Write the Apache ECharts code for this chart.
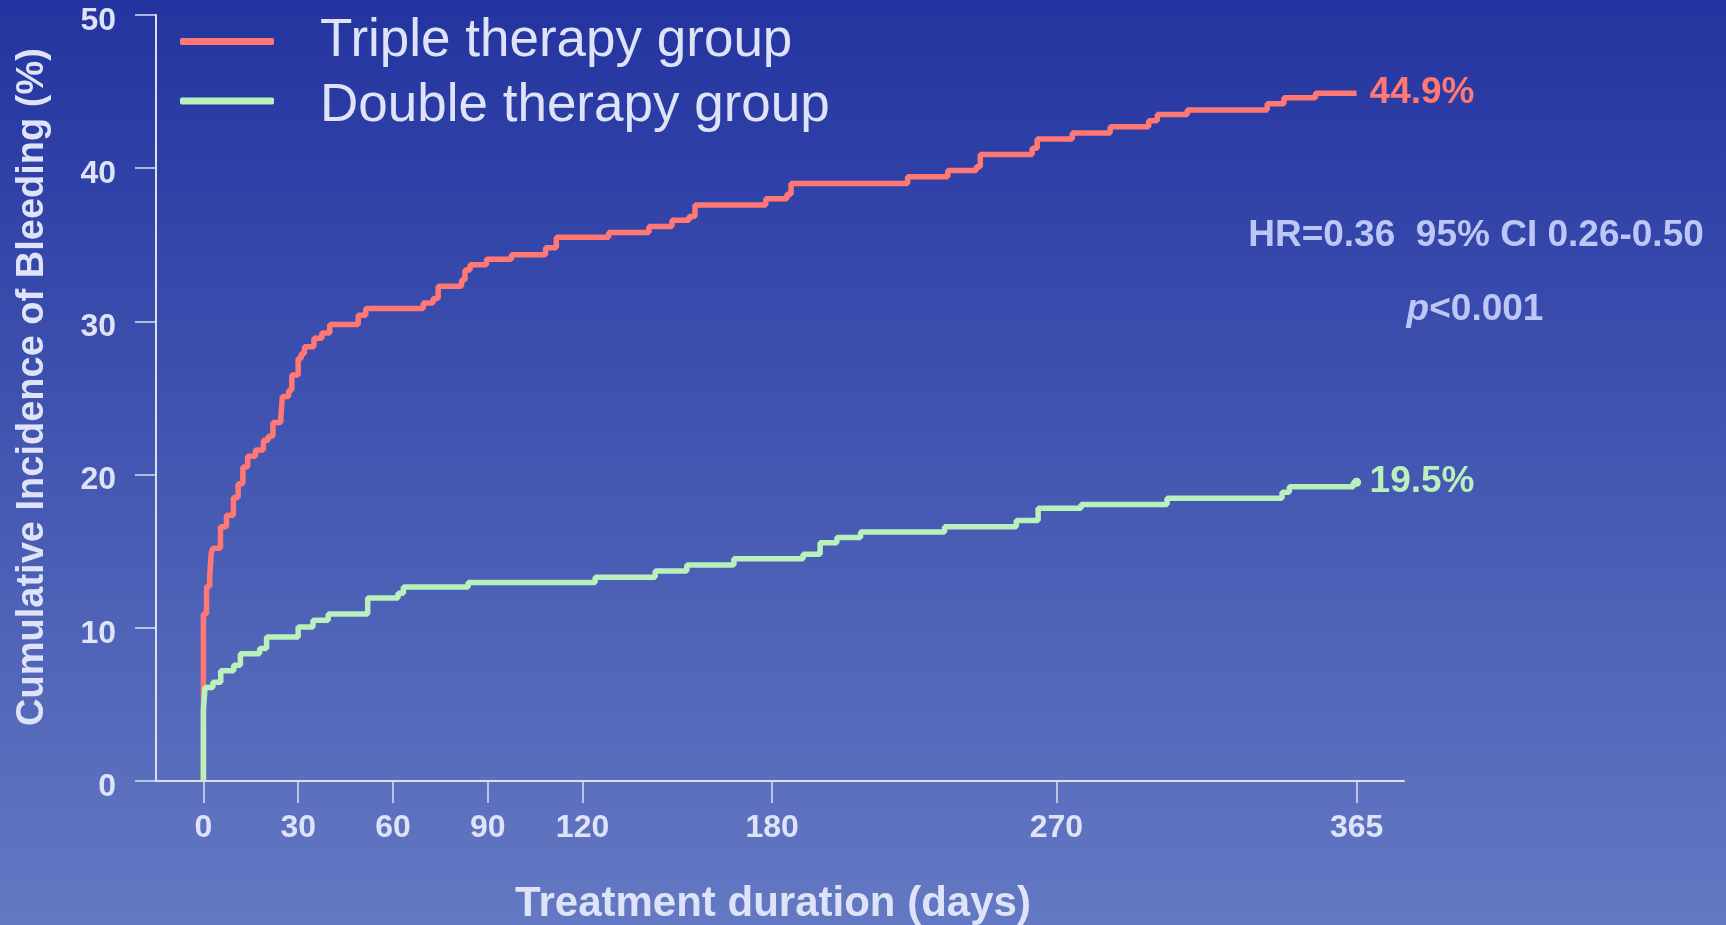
<!DOCTYPE html>
<html>
<head>
<meta charset="utf-8">
<script src="https://cdn.jsdelivr.net/npm/echarts@6/dist/echarts.min.js"></script>
<style>
  html, body { margin: 0; padding: 0; }
  #main { width: 1726px; height: 925px; }
</style>
</head>
<body>
<div id="main"></div>
<script>
  // Kaplan-Meier style cumulative incidence, [day, %]
  var tripleData = [
    [0, 0], [0, 10.9], [1, 12.7], [2, 13.4], [2.5, 14.9], [3, 15.2], [5.4, 16.6], [7.3, 17.35],
    [9.5, 18.5], [11, 19.4], [12.5, 20.5], [14, 21.2], [16.5, 21.6], [19, 22.25], [20.5, 22.5],
    [22, 23.4], [24.5, 23.7], [25, 25.1], [27, 25.5], [28, 26.5], [30, 27.6], [31, 27.9],
    [32, 28.35], [35, 28.9], [37.5, 29.25], [40, 29.8], [49, 30.4], [51.4, 30.85], [69.6, 31.2],
    [72.7, 31.5], [74.3, 32.3], [81.7, 32.7], [82.8, 33.35], [84.4, 33.7], [89.6, 34.05],
    [97.5, 34.35], [108.3, 34.8], [111.7, 35.5], [128.3, 35.8], [141, 36.2], [148.3, 36.6],
    [153.7, 36.85], [155.6, 37.6], [178, 38.0], [184.7, 38.3], [186, 39.0], [222.9, 39.45],
    [235.6, 39.85], [244.6, 40.1], [245.9, 40.9], [262.3, 41.3], [263.9, 41.9], [275, 42.3],
    [287, 42.7], [299.2, 43.1], [301.9, 43.5], [311.4, 43.8], [336.7, 44.2], [342, 44.6],
    [352, 44.9], [365, 44.9]
  ];
  var doubleData = [
    [0, 0], [0, 4.6], [0.5, 6.1], [3, 6.45], [5.5, 7.2], [9.6, 7.55], [11.7, 8.3], [17.8, 8.65],
    [20, 9.4], [30, 10.05], [34.7, 10.5], [39.5, 10.9], [52, 11.95], [61.6, 12.25], [63.3, 12.67],
    [83.8, 12.95], [124, 13.3], [143, 13.7], [153, 14.1], [167.9, 14.5], [189.8, 14.8],
    [195.2, 15.55], [200.5, 15.9], [208, 16.25], [234.6, 16.6], [257.3, 17.0], [264.2, 17.8],
    [277.8, 18.05], [305, 18.45], [341.4, 18.85], [343.7, 19.2], [364, 19.5], [365, 19.5]
  ];
  var xTicks = [0, 30, 60, 90, 120, 180, 270, 365];
  var seriesNames = ['Triple therapy group', 'Double therapy group'];
  var endLabels = ['44.9%', '19.5%'];

  var red = '#ff7874';
  var green = '#b9f0bc';
  var txt = '#dfe3f8';
  var font = '"Liberation Sans", Arial, sans-serif';

  var chart = echarts.init(document.getElementById('main'));

  // last green point gets the little dot
  var doubleSeriesData = doubleData.map(function (p, i) {
    if (i === doubleData.length - 1) {
      return { value: p, symbol: 'circle', symbolSize: 9 };
    }
    return p;
  });

  function legendFor(name, top, padTop) {
    return {
      data: [name],
      left: 180,
      top: top,
      padding: 0,
      itemWidth: 94,
      itemHeight: 7,
      icon: 'roundRect',
      formatter: '{t|{name}}',
      textStyle: {
        padding: [0, 0, 0, 41],
        rich: {
          t: { color: txt, fontSize: 53, fontFamily: font, padding: [padTop, 0, 0, 0] }
        }
      }
    };
  }

  chart.setOption({
    animation: false,
    backgroundColor: new echarts.graphic.LinearGradient(0, 0, 0, 1, [
      { offset: 0, color: '#2334a0' },
      { offset: 1, color: '#6479c3' }
    ]),
    textStyle: { fontFamily: font },
    grid: { left: 156, right: 322, top: 15, bottom: 144, outerBoundsMode: 'none', containLabel: false },
    legend: [
      legendFor(seriesNames[0], 15, 0),
      legendFor(seriesNames[1], 80, 11)
    ],
    xAxis: {
      type: 'value',
      min: -15,
      max: 380,
      name: 'Treatment duration (days)',
      nameLocation: 'middle',
      nameGap: 102,
      nameTextStyle: { color: txt, fontSize: 42, fontWeight: 'bold', fontFamily: font, padding: [0, 14, 0, 0] },
      axisLine: { show: true, lineStyle: { color: '#dcdff0', width: 2 } },
      axisTick: { show: true, length: 22, customValues: xTicks, lineStyle: { color: '#dcdff0', width: 1.5 } },
      axisLabel: { customValues: xTicks, color: txt, fontSize: 32, fontWeight: 'bold', margin: 31, fontFamily: font },
      splitLine: { show: false }
    },
    yAxis: {
      type: 'value',
      min: 0,
      max: 50,
      interval: 10,
      name: 'Cumulative Incidence of Bleeding (%)',
      nameLocation: 'middle',
      nameGap: 104,
      nameTextStyle: { color: txt, fontSize: 38, fontWeight: 'bold', fontFamily: font, padding: [0, 0, 0, 22] },
      axisLine: { show: true, onZero: false, lineStyle: { color: '#dcdff0', width: 2 } },
      axisTick: { show: true, length: 21, lineStyle: { color: '#dcdff0', width: 1.5 } },
      axisLabel: {
        margin: 40,
        formatter: '{v|{value}}',
        rich: {
          v: { color: txt, fontSize: 32, fontWeight: 'bold', fontFamily: font, padding: [12, 0, 0, 0] }
        }
      },
      splitLine: { show: false }
    },
    series: [
      {
        name: seriesNames[0],
        type: 'line',
        step: 'end',
        data: tripleData,
        showSymbol: false,
        color: red,
        lineStyle: { color: red, width: 5.5 },
        endLabel: {
          show: true,
          formatter: endLabels[0],
          color: red,
          fontSize: 37,
          fontWeight: 'bold',
          distance: 13
        }
      },
      {
        name: seriesNames[1],
        type: 'line',
        step: 'end',
        data: doubleSeriesData,
        symbol: 'none',
        showSymbol: true,
        color: green,
        itemStyle: { color: green },
        lineStyle: { color: green, width: 5.5 },
        endLabel: {
          show: true,
          formatter: endLabels[1],
          color: green,
          fontSize: 37,
          fontWeight: 'bold',
          distance: 13
        }
      }
    ],
    graphic: [
      {
        type: 'text',
        x: 1476,
        y: 236,
        style: {
          text: 'HR=0.36  95% CI 0.26-0.50',
          fill: '#bcc7f6',
          font: 'bold 37px ' + font,
          textAlign: 'center',
          textVerticalAlign: 'middle'
        }
      },
      {
        type: 'text',
        x: 1475,
        y: 310,
        style: {
          text: '{i|p}<0.001',
          fill: '#bcc7f6',
          font: 'bold 37px ' + font,
          textAlign: 'center',
          textVerticalAlign: 'middle',
          rich: {
            i: { fill: '#bcc7f6', font: 'italic bold 37px ' + font }
          }
        }
      }
    ]
  });
</script>
</body>
</html>
